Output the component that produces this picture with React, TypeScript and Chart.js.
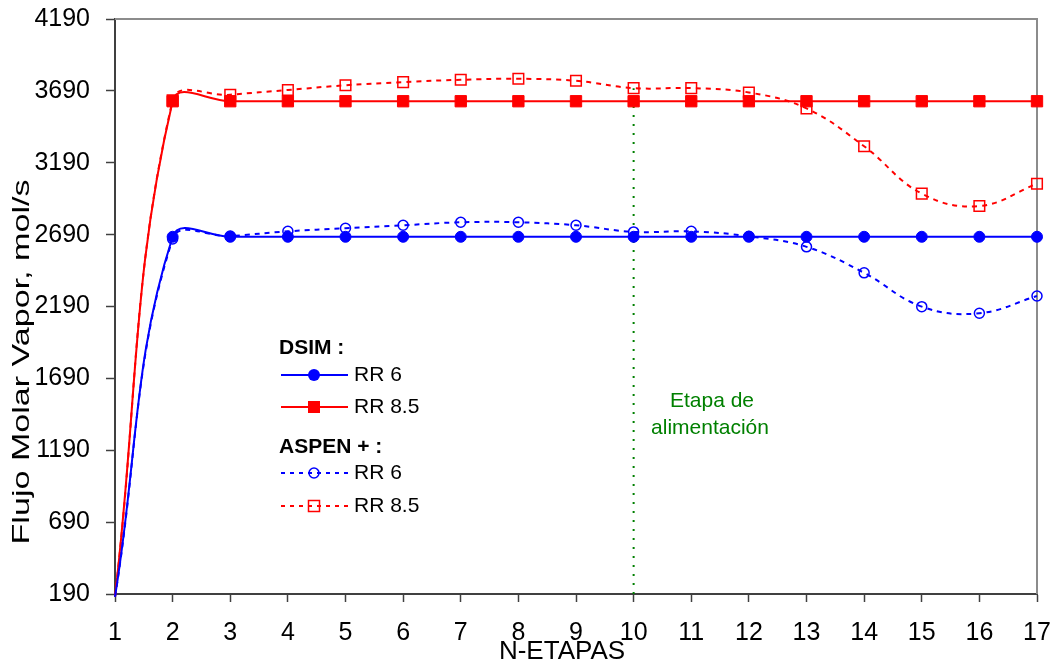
import React, { useEffect, useRef } from 'react';
import { Chart, registerables } from 'chart.js';

Chart.register(...registerables);

const FONT = "'Liberation Sans', Arial, Helvetica, sans-serif";

// Stages (N-ETAPAS)
const stages = [1, 2, 3, 4, 5, 6, 7, 8, 9, 10, 11, 12, 13, 14, 15, 16, 17];

// DSIM series
const dsimRR6 = [170, 2675, 2675, 2675, 2675, 2675, 2675, 2675, 2675, 2675, 2675, 2675, 2675, 2675, 2675, 2675, 2675];
const dsimRR85 = [170, 3618, 3618, 3618, 3618, 3618, 3618, 3618, 3618, 3618, 3618, 3618, 3618, 3618, 3618, 3618, 3618];

// ASPEN + series
const aspenRR6 = [170, 2660, 2680, 2713, 2734, 2755, 2776, 2776, 2755, 2709, 2713, 2678, 2605, 2424, 2189, 2143, 2263];
const aspenRR85 = [170, 3625, 3663, 3696, 3729, 3751, 3767, 3774, 3760, 3709, 3709, 3679, 3568, 3305, 2975, 2889, 3044];

// Axis settings
const yMin = 190;
const yMax = 4190;
const yStep = 500;
const xMin = 1;
const xMax = 17;

// Feed stage marker
const feedStage = 10;
const feedLine = [190, 3709];
const feedLabel = ['Etapa de', 'alimentación'];

// Texts
const xTitle = 'N-ETAPAS';
const yTitle = 'Flujo Molar Vapor, mol/s';
const groupDSIM = 'DSIM :';
const groupASPEN = 'ASPEN + :';
const seriesLabels = ['RR 6', 'RR 8.5'];

const BLUE = '#0000ff';
const RED = '#ff0000';
const GREEN = '#008000';

const toXY = (vals: number[]) => vals.map((v, i) => ({ x: stages[i], y: v }));

function drawMarker(ctx: CanvasRenderingContext2D, kind: string, x: number, y: number, color: string) {
  ctx.save();
  ctx.setLineDash([]);
  if (kind === 'fcircle') {
    ctx.fillStyle = color;
    ctx.beginPath();
    ctx.arc(x, y, 6, 0, Math.PI * 2);
    ctx.fill();
  } else if (kind === 'fsquare') {
    ctx.fillStyle = color;
    ctx.fillRect(x - 6, y - 6, 12, 12);
  } else if (kind === 'ocircle') {
    ctx.strokeStyle = color;
    ctx.lineWidth = 1.5;
    ctx.beginPath();
    ctx.arc(x, y, 5, 0, Math.PI * 2);
    ctx.stroke();
  } else {
    ctx.strokeStyle = color;
    ctx.lineWidth = 1.5;
    ctx.strokeRect(x - 5.5, y - 5.5, 11, 11);
  }
  ctx.restore();
}

const decorPlugin = {
  id: 'decor',
  beforeDatasetsDraw(chart: any) {
    const { ctx, chartArea } = chart;
    ctx.save();
    ctx.strokeStyle = '#8c8c8c';
    ctx.lineWidth = 2;
    ctx.beginPath();
    ctx.moveTo(chartArea.left, chartArea.top);
    ctx.lineTo(chartArea.right, chartArea.top);
    ctx.lineTo(chartArea.right, chartArea.bottom);
    ctx.stroke();
    ctx.restore();
  },
  afterDraw(chart: any) {
    const { ctx } = chart;
    ctx.save();
    // Y title (stretched like the original)
    ctx.fillStyle = '#000';
    ctx.save();
    ctx.translate(29, 362);
    ctx.rotate(-Math.PI / 2);
    ctx.scale(1.42, 1);
    ctx.font = `24px ${FONT}`;
    ctx.textAlign = 'center';
    ctx.textBaseline = 'alphabetic';
    ctx.fillText(yTitle, 0, 0);
    ctx.restore();

    // X title
    ctx.font = `26px ${FONT}`;
    ctx.textAlign = 'center';
    ctx.textBaseline = 'middle';
    ctx.fillText(xTitle, 562, 652);

    // Feed stage label
    ctx.fillStyle = GREEN;
    ctx.font = `21px ${FONT}`;
    ctx.fillText(feedLabel[0], 712, 401);
    ctx.fillText(feedLabel[1], 710, 428);

    // Legend
    ctx.fillStyle = '#000';
    ctx.textAlign = 'left';
    ctx.font = `bold 21px ${FONT}`;
    ctx.fillText(groupDSIM, 279, 348);
    ctx.fillText(groupASPEN, 279, 447);

    const rows = [
      { y: 375, color: BLUE, dash: [] as number[], marker: 'fcircle', label: seriesLabels[0] },
      { y: 407, color: RED, dash: [] as number[], marker: 'fsquare', label: seriesLabels[1] },
      { y: 473, color: BLUE, dash: [4, 5], marker: 'ocircle', label: seriesLabels[0] },
      { y: 506, color: RED, dash: [4, 5], marker: 'osquare', label: seriesLabels[1] },
    ];
    ctx.font = `21px ${FONT}`;
    rows.forEach((r) => {
      ctx.save();
      ctx.strokeStyle = r.color;
      ctx.lineWidth = 2;
      ctx.setLineDash(r.dash);
      ctx.beginPath();
      ctx.moveTo(281, r.y);
      ctx.lineTo(348, r.y);
      ctx.stroke();
      ctx.restore();
      drawMarker(ctx, r.marker, 314, r.y, r.color);
      ctx.fillStyle = '#000';
      ctx.fillText(r.label, 354, r.y);
    });
    ctx.restore();
  },
};

export default function App() {
  const ref = useRef<HTMLCanvasElement | null>(null);

  useEffect(() => {
    if (!ref.current) return;
    const hideFirst = (r: number) => (c: any) => (c.dataIndex === 0 ? 0 : r);
    const chart = new Chart(ref.current, {
      type: 'line',
      data: {
        datasets: [
          {
            label: 'DSIM RR 6',
            data: toXY(dsimRR6),
            borderColor: BLUE,
            backgroundColor: BLUE,
            borderWidth: 2,
            pointStyle: 'circle',
            pointRadius: hideFirst(5.5),
            pointBorderWidth: 1,
            pointBackgroundColor: BLUE,
            pointBorderColor: BLUE,
            tension: 0.4,
            clip: 14,
            order: 1,
          },
          {
            label: 'DSIM RR 8.5',
            data: toXY(dsimRR85),
            borderColor: RED,
            backgroundColor: RED,
            borderWidth: 2,
            pointStyle: 'rect',
            pointRadius: hideFirst(8),
            pointBorderWidth: 1,
            pointBackgroundColor: RED,
            pointBorderColor: RED,
            tension: 0.4,
            clip: 14,
            order: 2,
          },
          {
            label: 'ASPEN RR 6',
            data: toXY(aspenRR6),
            borderColor: BLUE,
            backgroundColor: 'rgba(0,0,0,0)',
            borderWidth: 2,
            borderDash: [5, 5],
            pointStyle: 'circle',
            pointRadius: hideFirst(5),
            pointBorderWidth: 1.5,
            pointBackgroundColor: 'rgba(0,0,0,0)',
            pointBorderColor: BLUE,
            tension: 0.4,
            clip: 14,
            order: 3,
          },
          {
            label: 'ASPEN RR 8.5',
            data: toXY(aspenRR85),
            borderColor: RED,
            backgroundColor: 'rgba(0,0,0,0)',
            borderWidth: 2,
            borderDash: [5, 5],
            pointStyle: 'rect',
            pointRadius: hideFirst(7.5),
            pointBorderWidth: 1.5,
            pointBackgroundColor: 'rgba(0,0,0,0)',
            pointBorderColor: RED,
            tension: 0.4,
            clip: 14,
            order: 4,
          },
          {
            label: 'feed',
            data: feedLine.map((v) => ({ x: feedStage, y: v })),
            borderColor: GREEN,
            borderWidth: 2,
            borderDash: [2, 7],
            pointRadius: 0,
            tension: 0,
            order: 10,
          },
        ],
      },
      options: {
        responsive: false,
        animation: false,
        events: [],
        layout: { padding: { top: 19, right: 21, left: 0, bottom: 0 } },
        plugins: {
          legend: { display: false },
          tooltip: { enabled: false },
          title: { display: false },
        },
        scales: {
          x: {
            type: 'linear',
            min: xMin,
            max: xMax,
            ticks: {
              stepSize: 1,
              color: '#000',
              font: { family: FONT, size: 25 },
              padding: 16,
              maxRotation: 0,
              autoSkip: false,
              callback: (v: any) => String(v),
            },
            grid: {
              drawOnChartArea: false,
              drawTicks: true,
              tickLength: 8,
              tickColor: '#404040',
              tickWidth: 1.5,
            },
            border: { color: '#404040', width: 2 },
            afterFit: (s: any) => {
              s.height = 72;
              s.paddingLeft = 0;
              s.paddingRight = 0;
            },
          },
          y: {
            type: 'linear',
            min: yMin,
            max: yMax,
            ticks: {
              stepSize: yStep,
              color: '#000',
              font: { family: FONT, size: 25 },
              padding: 16,
              callback: (v: any) => String(v),
            },
            grid: {
              drawOnChartArea: false,
              drawTicks: true,
              tickLength: 9,
              tickColor: '#404040',
              tickWidth: 1.5,
            },
            border: { color: '#404040', width: 2 },
            afterFit: (s: any) => {
              s.width = 115;
              s.paddingTop = 0;
              s.paddingBottom = 0;
            },
          },
        },
      },
      plugins: [decorPlugin],
    } as any);
    return () => chart.destroy();
  }, []);

  return (
    <div style={{ position: 'absolute', left: 0, top: 0, width: 1058, height: 666, background: '#fff' }}>
      <canvas ref={ref} width={1058} height={666} style={{ display: 'block' }} />
    </div>
  );
}
